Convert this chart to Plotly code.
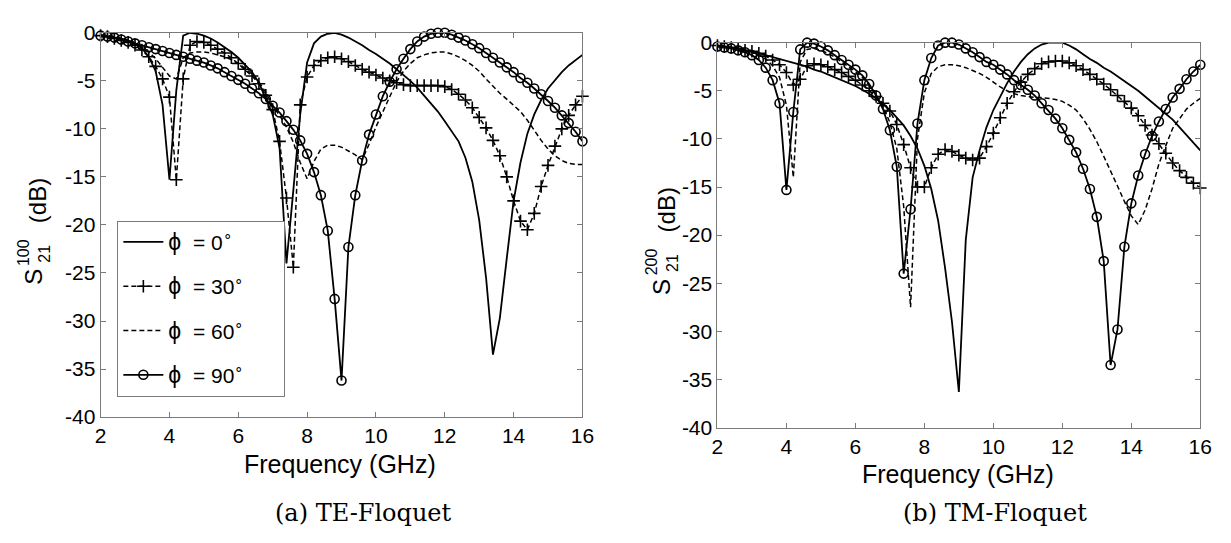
import plotly.graph_objects as go

# Frequency sweep (GHz)
freq = [2.0, 2.2, 2.4, 2.6, 2.8, 3.0, 3.2, 3.4, 3.6, 3.8,
        4.0, 4.2, 4.4, 4.6, 4.8, 5.0, 5.2, 5.4, 5.6, 5.8,
        6.0, 6.2, 6.4, 6.6, 6.8, 7.0, 7.2, 7.4, 7.6, 7.8,
        8.0, 8.2, 8.4, 8.6, 8.8, 9.0, 9.2, 9.4, 9.6, 9.8,
        10.0, 10.2, 10.4, 10.6, 10.8, 11.0, 11.2, 11.4, 11.6, 11.8,
        12.0, 12.2, 12.4, 12.6, 12.8, 13.0, 13.2, 13.4, 13.6, 13.8,
        14.0, 14.2, 14.4, 14.6, 14.8, 15.0, 15.2, 15.4, 15.6, 15.8,
        16.0]

# (a) TE-Floquet, S21 (dB)
te_phi0 = [-0.3, -0.4, -0.5, -0.6, -0.8, -1.1, -1.6, -2.5, -4.0, -7.5,
           -15.3, -6.0, -0.3, 0.0, -0.1, -0.3, -0.6, -1.0, -1.5, -2.0,
           -2.6, -3.3, -4.1, -5.2, -6.8, -8.5, -12.0, -24.0, -16.4, -8.5,
           -3.1, -1.1, -0.4, -0.1, 0.0, -0.2, -0.5, -0.9, -1.3, -1.8,
           -2.2, -2.7, -3.2, -3.8, -4.4, -5.0, -5.7, -6.5, -7.3, -8.2,
           -9.2, -10.2, -11.3, -13.0, -15.5, -19.5, -25.5, -33.5, -29.7, -23.5,
           -17.5, -13.5, -10.5, -8.5, -7.0, -5.8, -4.9, -4.1, -3.4, -2.8,
           -2.3]
te_phi30 = [-0.3, -0.4, -0.6, -0.8, -1.0, -1.3, -1.8, -2.5, -3.5, -4.8,
            -6.7, -15.3, -4.8, -1.3, -0.9, -1.0, -1.3, -1.7, -2.1, -2.6,
            -3.2, -3.8, -4.5, -5.3, -6.5, -8.0, -11.3, -17.2, -24.4, -7.5,
            -4.6, -3.4, -2.9, -2.6, -2.5, -2.7, -3.0, -3.4, -3.8, -4.1,
            -4.4, -4.7, -5.0, -5.2, -5.4, -5.5, -5.5, -5.5, -5.5, -5.5,
            -5.6, -5.9, -6.4, -7.0, -7.8, -8.8, -9.9, -11.2, -12.8, -15.0,
            -17.5, -19.6, -20.5, -18.8, -16.0, -13.8, -11.8, -10.0, -8.6, -7.5,
            -6.6]
te_phi60 = [-0.2, -0.3, -0.4, -0.6, -0.8, -1.1, -1.5, -2.0, -2.7, -3.6,
            -4.5, -4.8, -2.6, -2.1, -2.0, -2.0, -2.1, -2.3, -2.5, -2.8,
            -3.2, -3.7, -4.3, -5.1, -6.2, -7.6, -8.6, -9.8, -11.4, -13.5,
            -15.2, -13.4, -12.1, -11.7, -11.7, -11.9, -12.3, -12.7, -13.2, -11.6,
            -9.8, -8.2, -6.6, -5.1, -4.0, -3.2, -2.6, -2.3, -2.1, -2.0,
            -2.0, -2.2, -2.5, -2.9, -3.4, -4.0, -4.8, -5.6, -6.3, -6.9,
            -7.5, -8.2, -9.1, -10.2, -11.2, -12.1, -12.8, -13.3, -13.6, -13.7,
            -13.7]
te_phi90 = [-0.3, -0.4, -0.5, -0.7, -0.9, -1.1, -1.3, -1.5, -1.7, -1.9,
            -2.1, -2.3, -2.5, -2.7, -2.9, -3.1, -3.4, -3.7, -4.1, -4.5,
            -4.9, -5.3, -5.8, -6.3, -6.9, -7.6, -8.3, -9.2, -10.1, -11.2,
            -12.6, -14.5, -16.9, -20.6, -27.7, -36.2, -22.3, -16.9, -13.3, -10.6,
            -8.5, -6.6, -5.1, -3.8, -2.7, -1.7, -0.9, -0.4, -0.1, 0.0,
            0.0, -0.2, -0.5, -0.8, -1.2, -1.6, -2.1, -2.6, -3.1, -3.6,
            -4.1, -4.7, -5.2, -5.8, -6.4, -7.1, -7.8, -8.6, -9.4, -10.3,
            -11.3]

# (b) TM-Floquet, S21 (dB)
tm_phi0 = [-0.3, -0.4, -0.5, -0.6, -0.8, -0.9, -1.1, -1.3, -1.5, -1.7,
           -1.9, -2.1, -2.3, -2.5, -2.8, -3.0, -3.3, -3.6, -3.9, -4.2,
           -4.5, -4.9, -5.3, -5.8, -6.4, -7.0, -7.8, -8.6, -9.7, -11.0,
           -12.8, -15.2, -18.5, -23.4, -29.0, -36.3, -20.5, -14.0, -11.2, -8.8,
           -7.0, -5.6, -4.2, -3.0, -2.0, -1.2, -0.6, -0.2, 0.0, 0.0,
           0.0, -0.3, -0.7, -1.2, -1.7, -2.1, -2.6, -3.0, -3.5, -4.0,
           -4.5, -5.0, -5.6, -6.2, -6.8, -7.3, -8.0, -8.8, -9.6, -10.4,
           -11.2]
tm_phi30 = [-0.3, -0.4, -0.5, -0.6, -0.8, -0.9, -1.1, -1.4, -1.8, -2.3,
            -3.1, -4.4, -3.8, -2.4, -2.2, -2.3, -2.5, -2.8, -3.1, -3.5,
            -3.9, -4.4, -5.0, -5.6, -6.3, -7.1, -8.5, -10.6, -13.0, -15.0,
            -15.0, -13.0, -11.6, -11.1, -11.3, -11.7, -12.0, -12.2, -12.0, -10.8,
            -9.4, -7.8, -6.3, -5.1, -4.1, -3.3, -2.7, -2.2, -2.0, -1.9,
            -1.9, -2.1, -2.4, -2.8, -3.3, -3.8, -4.3, -4.9, -5.5, -6.1,
            -6.8, -7.6, -8.6, -9.6, -10.5, -11.5, -12.5, -13.3, -14.0, -14.6,
            -15.1]
tm_phi60 = [-0.3, -0.4, -0.5, -0.6, -0.8, -1.0, -1.3, -1.7, -2.4, -3.6,
            -6.5, -14.0, -2.0, -0.7, -0.6, -0.8, -1.1, -1.5, -2.0, -2.5,
            -3.0, -3.6, -4.4, -5.4, -6.6, -8.3, -11.0, -17.0, -27.5, -10.0,
            -5.2, -3.2, -2.5, -2.3, -2.3, -2.4, -2.6, -2.9, -3.2, -3.6,
            -4.1, -4.6, -5.0, -5.3, -5.5, -5.6, -5.7, -5.7, -5.8, -5.9,
            -6.1, -6.5, -7.0, -7.9, -9.0, -10.3, -11.8, -13.3, -14.9, -16.5,
            -18.0, -18.9, -17.4, -15.2, -12.6, -10.7, -8.9, -7.9, -6.9, -6.3,
            -5.8]
tm_phi90 = [-0.4, -0.5, -0.6, -0.8, -1.0, -1.3, -1.8, -2.6, -3.9, -6.3,
            -15.3, -7.2, -0.7, 0.0, -0.1, -0.4, -0.8, -1.3, -1.8, -2.3,
            -2.8, -3.4, -4.3, -5.5, -6.9, -9.1, -12.9, -24.0, -17.3, -8.4,
            -3.9, -1.6, -0.3, 0.0, 0.0, -0.2, -0.6, -1.0, -1.5, -2.0,
            -2.3, -2.8, -3.3, -3.9, -4.4, -4.9, -5.5, -6.3, -7.0, -7.9,
            -8.9, -10.1, -11.4, -13.1, -15.2, -18.1, -22.7, -33.5, -29.8, -21.2,
            -16.7, -13.8, -11.6, -9.7, -8.2, -6.9, -5.7, -4.8, -3.8, -3.0,
            -2.3]

angles = ["0", "30", "60", "90"]
te_series = [te_phi0, te_phi30, te_phi60, te_phi90]
tm_series = [tm_phi0, tm_phi30, tm_phi60, tm_phi90]

# tick positions and labels
x_ticks = [2, 4, 6, 8, 10, 12, 14, 16]
x_tick_text = ["2", "4", "6", "8", "10", "12", "14", "16"]
y_ticks = [0, -5, -10, -15, -20, -25, -30, -35, -40]
y_tick_text = ["0", "-5", "-10", "-15", "-20", "-25", "-30", "-35", "-40"]

W, H = 1231, 543
SANS = "Liberation Sans, Arial, Helvetica, sans-serif"
SERIF = "DejaVu Serif, Liberation Serif, serif"

styles = [
    dict(mode="lines", line=dict(color="black", width=1.8)),
    dict(mode="lines+markers", line=dict(color="black", width=1.5, dash="5px,3px"),
         marker=dict(symbol="cross-thin", size=9, color="black",
                     line=dict(color="black", width=1.6))),
    dict(mode="lines", line=dict(color="black", width=1.5, dash="5px,3px")),
    dict(mode="lines+markers", line=dict(color="black", width=1.8),
         marker=dict(symbol="circle-open", size=9, color="black",
                     line=dict(color="black", width=1.6))),
]

NB = "\u00a0"
fig = go.Figure()
for k, (ang, ys) in enumerate(zip(angles, te_series)):
    name = ('<span style="font-size:23px">\u03d5</span>' + NB * 2 + '= '
            + ang + '<sup>\u2218</sup>' + NB * 6)
    fig.add_trace(go.Scatter(x=freq, y=ys, name=name, legendgroup="g" + ang,
                             xaxis="x", yaxis="y", cliponaxis=False, **styles[k]))
for k, (ang, ys) in enumerate(zip(angles, tm_series)):
    fig.add_trace(go.Scatter(x=freq, y=ys, showlegend=False,
                             xaxis="x2", yaxis="y2", cliponaxis=False, **styles[k]))


def px_x(p):
    return p / W


def px_y(p):
    return 1 - p / H


axis_common = dict(
    showline=True, linecolor="#7a7a7a", linewidth=1, mirror="ticks",
    ticks="inside", ticklen=5, tickcolor="#7a7a7a", tickwidth=1,
    showgrid=False, zeroline=False,
    tickfont=dict(family=SANS, size=21, color="black"),
)
x_common = dict(range=[2, 16], tickmode="array", tickvals=x_ticks,
                ticktext=x_tick_text, **axis_common)
y_common = dict(range=[-40, 0], tickmode="array", tickvals=y_ticks,
                ticktext=y_tick_text, **axis_common)

fig.update_layout(
    width=W, height=H, autosize=False,
    margin=dict(l=0, r=0, t=0, b=0),
    paper_bgcolor="white", plot_bgcolor="white",
    font=dict(family=SANS, color="black"),
    xaxis=dict(domain=[px_x(96), px_x(585)], anchor="y", **x_common),
    yaxis=dict(domain=[px_y(423), px_y(21.7)], anchor="x", **y_common),
    xaxis2=dict(domain=[px_x(722), px_x(1212)], anchor="y2", **x_common),
    yaxis2=dict(domain=[px_y(434), px_y(32)], anchor="x2", **y_common),
    legend=dict(x=px_x(113), y=px_y(218), xanchor="left", yanchor="top",
                bgcolor="white", bordercolor="#7a7a7a", borderwidth=1,
                font=dict(family=SANS, size=21, color="black"),
                tracegroupgap=14, traceorder="grouped", itemwidth=40),
    showlegend=True,
)


def label(text, x, y, size, angle=0, family=SANS):
    fig.add_annotation(text=text, x=px_x(x), y=px_y(y), xref="paper", yref="paper",
                       showarrow=False, textangle=angle, xanchor="center",
                       yanchor="middle", font=dict(family=family, size=size, color="black"))


# axis titles
label("Frequency (GHz)", 339, 472, 25)
label("Frequency (GHz)", 966, 482, 25)

# y titles: S with stacked superscript / subscript
for dx, dy, sup in [(0, 0, "100"), (638, 10, "200")]:
    label("S", 28 + dx, 277 + dy, 24, -90)
    label(sup, 18 + dx, 251 + dy, 16, -90)
    label("21", 39 + dx, 252 + dy, 16, -90)
    label("(dB)", 32 + dx, 197 + dy, 24, -90)

# captions
label("(a) TE-Floquet", 363, 523, 24, family=SERIF)
label("(b) TM-Floquet", 1004, 523, 24, family=SERIF)

fig.write_html("out.html")
